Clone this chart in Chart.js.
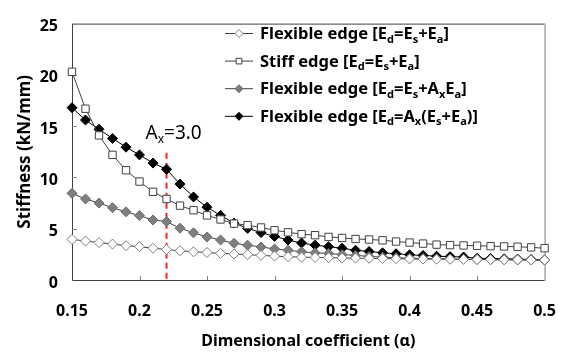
<!DOCTYPE html>
<html>
<head>
<meta charset="utf-8">
<script src="https://cdn.jsdelivr.net/npm/chart.js@4.4.0/dist/chart.umd.min.js"></script>
<style>
body { margin: 0; background: #fff; }
#wrap { width: 578px; height: 363px; }
</style>
</head>
<body>
<div id="wrap"><canvas id="stiffChart" width="578" height="363"></canvas></div>
<script>
// dimensional coefficient (alpha)
const alphaValues = [0.15, 0.16, 0.17, 0.18, 0.19, 0.20, 0.21, 0.22, 0.23, 0.24, 0.25, 0.26,
    0.27, 0.28, 0.29, 0.30, 0.31, 0.32, 0.33, 0.34, 0.35, 0.36, 0.37, 0.38,
    0.39, 0.40, 0.41, 0.42, 0.43, 0.44, 0.45, 0.46, 0.47, 0.48, 0.49, 0.50];

// stiffness (kN/mm)
const flexibleSum = [3.96, 3.8, 3.65, 3.5, 3.35, 3.25, 3.1, 2.97, 2.85, 2.75, 2.68, 2.6,
    2.53, 2.47, 2.4, 2.33, 2.27, 2.22, 2.2, 2.18, 2.15, 2.13, 2.11, 2.09,
    2.07, 2.05, 2.04, 2.03, 2.02, 2.01, 2.0, 1.99, 1.98, 1.97, 1.96, 1.95];
const stiffSum = [20.3, 16.7, 14.1, 12.2, 10.7, 9.6, 8.6, 7.9, 7.25, 6.8, 6.3, 5.9,
    5.5, 5.35, 5.12, 4.85, 4.65, 4.47, 4.37, 4.2, 4.1, 4.0, 3.95, 3.87,
    3.75, 3.65, 3.55, 3.45, 3.4, 3.37, 3.34, 3.3, 3.27, 3.24, 3.18, 3.1];
const flexibleAxEa = [8.45, 7.9, 7.5, 7.05, 6.65, 6.28, 5.85, 5.7, 5.05, 4.6, 4.2, 3.9,
    3.58, 3.4, 3.22, 3.03, 2.9, 2.75, 2.65, 2.58, 2.48, 2.4, 2.3, 2.23,
    2.17, 2.12, 2.1, 2.07, 2.05, 2.03, 2.0, 1.98, 1.97, 1.96, 1.95, 1.95];
const flexibleAxAll = [16.8, 15.6, 14.7, 13.8, 12.95, 12.2, 11.4, 10.8, 9.35, 8.1, 7.1, 6.3,
    5.55, 5.03, 4.62, 4.25, 3.9, 3.6, 3.4, 3.25, 3.1, 2.9, 2.78, 2.65,
    2.56, 2.46, 2.4, 2.32, 2.28, 2.24, 2.12, 2.1, 2.07, 2.04, 2.0, 1.96];

const xTicks = [0.15, 0.2, 0.25, 0.3, 0.35, 0.4, 0.45, 0.5];
const xTickLabels = ['0.15', '0.2', '0.25', '0.3', '0.35', '0.4', '0.45', '0.5'];
const yTicks = [0, 5, 10, 15, 20, 25];

// "_x" = subscript x
const legendLabels = [
    'Flexible edge [E_d=E_s+E_a]',
    'Stiff edge [E_d=E_s+E_a]',
    'Flexible edge [E_d=E_s+A_xE_a]',
    'Flexible edge [E_d=A_x(E_s+E_a)]'
];

const axAlpha = 0.22;
const axLineTop = 12.4;
const axLabel = 'A_x=3.0';

const FONT = '"Noto Sans", "Open Sans", sans-serif';

function toPoints(values) {
    return values.map((v, i) => ({ x: alphaValues[i], y: v }));
}

function richParts(str) {
    const parts = [];
    let buf = '';
    for (let i = 0; i < str.length; i++) {
        if (str[i] === '_') {
            if (buf) parts.push({ t: buf, sub: false });
            buf = '';
            parts.push({ t: str[i + 1], sub: true });
            i++;
        } else {
            buf += str[i];
        }
    }
    if (buf) parts.push({ t: buf, sub: false });
    return parts;
}

function drawRich(ctx, str, x, y, size, weight) {
    ctx.textBaseline = 'alphabetic';
    ctx.textAlign = 'left';
    richParts(str).forEach(p => {
        const s = p.sub ? Math.round(size * 0.65) : size;
        ctx.font = weight + ' ' + s + 'px ' + FONT;
        ctx.fillText(p.t, x, p.sub ? y + size * 0.22 : y);
        x += ctx.measureText(p.t).width;
    });
}

const datasets = [
    {
        label: legendLabels[0], data: toPoints(flexibleSum),
        borderColor: '#404040', borderWidth: 1,
        pointStyle: 'rectRot', pointRadius: 5,
        pointBackgroundColor: '#ffffff', pointBorderColor: '#808080', pointBorderWidth: 1
    },
    {
        label: legendLabels[1], data: toPoints(stiffSum),
        borderColor: '#404040', borderWidth: 1,
        pointStyle: 'rect', pointRadius: 5.2,
        pointBackgroundColor: '#ffffff', pointBorderColor: '#404040', pointBorderWidth: 1
    },
    {
        label: legendLabels[2], data: toPoints(flexibleAxEa),
        borderColor: '#404040', borderWidth: 1,
        pointStyle: 'rectRot', pointRadius: 5,
        pointBackgroundColor: '#7f7f7f', pointBorderColor: '#6a6a6a', pointBorderWidth: 1
    },
    {
        label: legendLabels[3], data: toPoints(flexibleAxAll),
        borderColor: '#000000', borderWidth: 1,
        pointStyle: 'rectRot', pointRadius: 5,
        pointBackgroundColor: '#000000', pointBorderColor: '#000000', pointBorderWidth: 1
    }
];
datasets.forEach(d => { d.clip = false; d.tension = 0; d.fill = false; });

const framePlugin = {
    id: 'frame',
    beforeDatasetsDraw(chart) {
        const { ctx, chartArea: a, scales: { x, y } } = chart;
        ctx.save();
        // plot frame
        ctx.lineWidth = 1;
        ctx.strokeStyle = '#404040';
        ctx.beginPath();
        ctx.moveTo(a.left + 0.5, a.top + 0.5);
        ctx.lineTo(a.right, a.top + 0.5);
        ctx.moveTo(a.left + 0.5, a.top);
        ctx.lineTo(a.left + 0.5, a.bottom + 0.5);
        ctx.lineTo(a.right, a.bottom + 0.5);
        ctx.stroke();
        ctx.strokeStyle = '#a6a6a6';
        ctx.lineWidth = 1.5;
        ctx.beginPath();
        ctx.moveTo(a.right + 0.5, a.top);
        ctx.lineTo(a.right + 0.5, a.bottom + 1);
        ctx.stroke();
        // inside ticks
        ctx.strokeStyle = '#808080';
        ctx.lineWidth = 1;
        ctx.beginPath();
        xTicks.slice(1, -1).forEach(v => {
            const px = Math.round(x.getPixelForValue(v)) + 0.5;
            ctx.moveTo(px, a.bottom);
            ctx.lineTo(px, a.bottom - 4);
        });
        yTicks.slice(1, -1).forEach(v => {
            const py = Math.round(y.getPixelForValue(v)) + 0.5;
            ctx.moveTo(a.left, py);
            ctx.lineTo(a.left + 5, py);
        });
        ctx.stroke();
        // dashed marker line
        const lx = x.getPixelForValue(axAlpha);
        ctx.strokeStyle = '#ff2020';
        ctx.lineWidth = 2;
        ctx.setLineDash([6, 4]);
        ctx.beginPath();
        ctx.moveTo(lx, y.getPixelForValue(axLineTop));
        ctx.lineTo(lx, a.bottom);
        ctx.stroke();
        ctx.setLineDash([]);
        ctx.restore();
    },
    afterDraw(chart) {
        const { ctx, scales: { x, y } } = chart;
        ctx.save();
        ctx.fillStyle = '#000';
        // annotation
        const lx = x.getPixelForValue(axAlpha);
        drawRich(ctx, axLabel, lx - 21, y.getPixelForValue(axLineTop) - 14, 19, 'normal');
        // legend
        chart.data.datasets.forEach((ds, i) => {
            const cy = 33 + i * 27.6;
            ctx.strokeStyle = ds.borderColor;
            ctx.lineWidth = 1;
            ctx.beginPath();
            ctx.moveTo(225, cy + 0.5);
            ctx.lineTo(253, cy + 0.5);
            ctx.stroke();
            ctx.fillStyle = ds.pointBackgroundColor;
            ctx.strokeStyle = ds.pointBorderColor;
            Chart.helpers.drawPoint(ctx, {
                pointStyle: ds.pointStyle, radius: 4,
                borderWidth: 1, rotation: 0
            }, 239, cy + 0.5);
            ctx.fillStyle = '#000';
            drawRich(ctx, ds.label, 260, cy + 6, 16.5, 'bold');
        });
        ctx.restore();
    }
};

const ctx = document.getElementById('stiffChart').getContext('2d');
new Chart(ctx, {
    type: 'line',
    data: { datasets: datasets },
    options: {
        responsive: false,
        animation: false,
        events: [],
        layout: { padding: { top: 12, right: 21, left: 0, bottom: 0 } },
        plugins: { legend: { display: false }, tooltip: { enabled: false } },
        scales: {
            x: {
                type: 'linear', min: 0.15, max: 0.5,
                afterBuildTicks: scale => { scale.ticks = xTicks.map(v => ({ value: v })); },
                afterFit: scale => { scale.height = 83; },
                grid: { display: false, drawTicks: false },
                border: { display: false },
                ticks: {
                    color: '#000', padding: 22, maxRotation: 0, autoSkip: false,
                    font: { family: FONT, size: 16, weight: 'bold' },
                    callback: (v, i) => xTickLabels[i]
                },
                title: {
                    display: true, text: 'Dimensional coefficient (α)', color: '#000',
                    font: { family: FONT, size: 16, weight: 'bold' },
                    padding: { top: 0, bottom: 12 }
                }
            },
            y: {
                min: 0, max: 25,
                afterBuildTicks: scale => { scale.ticks = yTicks.map(v => ({ value: v })); },
                afterFit: scale => { scale.width = 72; },
                grid: { display: false, drawTicks: false },
                border: { display: false },
                ticks: {
                    color: '#000', padding: 14, labelOffset: 3,
                    font: { family: FONT, size: 16, weight: 'bold' }
                },
                title: {
                    display: true, text: 'Stiffness (kN/mm)', color: '#000',
                    font: { family: FONT, size: 17, weight: 'bold' },
                    padding: { top: 15, bottom: 0 }
                }
            }
        }
    },
    plugins: [framePlugin]
});
</script>
</body>
</html>
